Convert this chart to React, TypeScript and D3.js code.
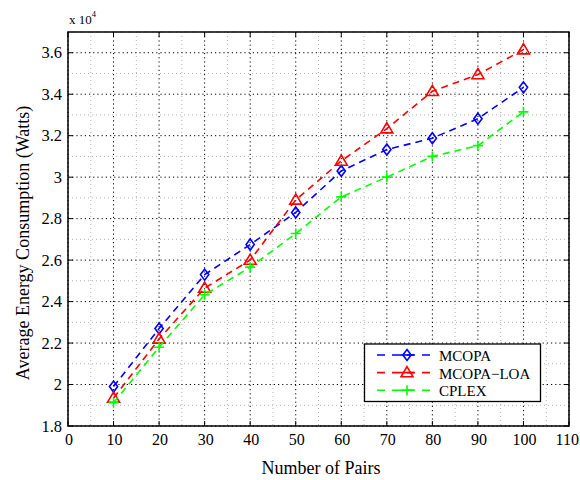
import React from "react";
import * as d3 from "d3";

const pairs = [10, 20, 30, 40, 50, 60, 70, 80, 90, 100];
const mcopa = [1.99, 2.27, 2.53, 2.675, 2.83, 3.03, 3.133, 3.188, 3.282, 3.433];
const mcopaLoa = [1.935, 2.22, 2.465, 2.6, 2.89, 3.078, 3.234, 3.414, 3.495, 3.615];
const cplex = [1.912, 2.18, 2.433, 2.566, 2.728, 2.905, 3.0, 3.1, 3.152, 3.315];
const xTicks = [0, 10, 20, 30, 40, 50, 60, 70, 80, 90, 100, 110];
const yTicks = [1.8, 2, 2.2, 2.4, 2.6, 2.8, 3, 3.2, 3.4, 3.6];
const xMinor = d3.range(5, 110, 10);
const yMinor = [1.9, 2.1, 2.3, 2.5, 2.7, 2.9, 3.1, 3.3, 3.5, 3.7];

const seriesList = [
  { name: "MCOPA", values: mcopa, color: "#0000ff", marker: "diamond" },
  { name: "MCOPA\u2212LOA", values: mcopaLoa, color: "#ff0000", marker: "triangle" },
  { name: "CPLEX", values: cplex, color: "#00ff00", marker: "plus" },
];

const L = 68, R = 569, T = 32, B = 426;
const FONT = "'Liberation Serif', 'Times New Roman', serif";

function Marker({ type, x, y, color }: { type: string; x: number; y: number; color: string }) {
  if (type === "diamond") {
    const s = 5.5;
    return <path d={`M${x},${y - s}L${x + s * 0.75},${y}L${x},${y + s}L${x - s * 0.75},${y}Z`} fill="none" stroke={color} strokeWidth={1.6} />;
  }
  if (type === "triangle") {
    const s = 6;
    return <path d={`M${x},${y - s}L${x + s},${y + s * 0.7}L${x - s},${y + s * 0.7}Z`} fill="none" stroke={color} strokeWidth={1.6} />;
  }
  const s = 5;
  return <path d={`M${x - s},${y}L${x + s},${y}M${x},${y - s}L${x},${y + s}`} fill="none" stroke={color} strokeWidth={1.6} />;
}

export default function App() {
  const x = d3.scaleLinear().domain([0, 110]).range([L, R]);
  const y = d3.scaleLinear().domain([1.8, 3.7]).range([B, T]);
  const line = d3.line<number>().x((_, i) => x(pairs[i])).y((d) => y(d));

  return (
    <svg width={580} height={480} style={{ position: "absolute", left: 0, top: 0, background: "#fff" }} fontFamily={FONT}>
      <rect x={0} y={0} width={580} height={480} fill="#fff" />
      {xMinor.map((v) => (
        <line key={"xm" + v} x1={x(v)} x2={x(v)} y1={T} y2={B} stroke="#b0b0b0" strokeWidth={1} strokeDasharray="1,3" />
      ))}
      {yMinor.map((v) => (
        <line key={"ym" + v} x1={L} x2={R} y1={y(v)} y2={y(v)} stroke="#b0b0b0" strokeWidth={1} strokeDasharray="1,3" />
      ))}
      {xTicks.map((v) => (
        <line key={"xg" + v} x1={x(v)} x2={x(v)} y1={T} y2={B} stroke="#000" strokeWidth={1} strokeDasharray="1.2,3" />
      ))}
      {yTicks.map((v) => (
        <line key={"yg" + v} x1={L} x2={R} y1={y(v)} y2={y(v)} stroke="#000" strokeWidth={1} strokeDasharray="1.2,3" />
      ))}
      {xTicks.map((v, i) => {
        const last = i === xTicks.length - 1;
        return (
          <g key={"xt" + v}>
            <line x1={x(v)} x2={x(v)} y1={B} y2={B - 5} stroke="#000" strokeWidth={1} />
            <line x1={x(v)} x2={x(v)} y1={T} y2={T + 5} stroke="#000" strokeWidth={1} />
            <text x={last ? 579 : x(v) + 1} y={B + 19} textAnchor={last ? "end" : "middle"} fontSize={16}>{v}</text>
          </g>
        );
      })}
      {yTicks.map((v) => (
        <g key={"yt" + v}>
          <line x1={L} x2={L + 5} y1={y(v)} y2={y(v)} stroke="#000" strokeWidth={1} />
          <line x1={R} x2={R - 5} y1={y(v)} y2={y(v)} stroke="#000" strokeWidth={1} />
          <text x={L - 6} y={y(v) + 5.6} textAnchor="end" fontSize={16.5}>{String(v)}</text>
        </g>
      ))}
      <rect x={L} y={T} width={R - L} height={B - T} fill="none" stroke="#000" strokeWidth={1.5} />
      {seriesList.map((s) => (
        <g key={s.name}>
          <path d={line(s.values) || ""} fill="none" stroke={s.color} strokeWidth={1.6} strokeDasharray="7,5" />
          {s.values.map((v, i) => (
            <Marker key={i} type={s.marker} x={x(pairs[i])} y={y(v)} color={s.color} />
          ))}
        </g>
      ))}
      <rect x={364.5} y={344} width={176} height={57.5} fill="#fff" stroke="#000" strokeWidth={1.3} />
      {seriesList.map((s, i) => {
        const ly = 355 + i * 17.6;
        return (
          <g key={"lg" + s.name}>
            <line x1={377} x2={432} y1={ly} y2={ly} stroke={s.color} strokeWidth={1.6} strokeDasharray="8,7" />
            <line x1={400} x2={414} y1={ly} y2={ly} stroke={s.color} strokeWidth={1.6} />
            <Marker type={s.marker} x={407} y={ly} color={s.color} />
            <text x={439} y={ly + 6} fontSize={15}>{s.name}</text>
          </g>
        );
      })}
      <text x={321} y={474} textAnchor="middle" fontSize={18}>Number of Pairs</text>
      <text transform={`translate(29,243) rotate(-90)`} textAnchor="middle" fontSize={18}>
        Average Energy Consumption (Watts)
      </text>
      <text x={69} y={24} fontSize={13}>
        x 10<tspan fontSize={8.5} dy={-7.5}>4</tspan>
      </text>
    </svg>
  );
}
